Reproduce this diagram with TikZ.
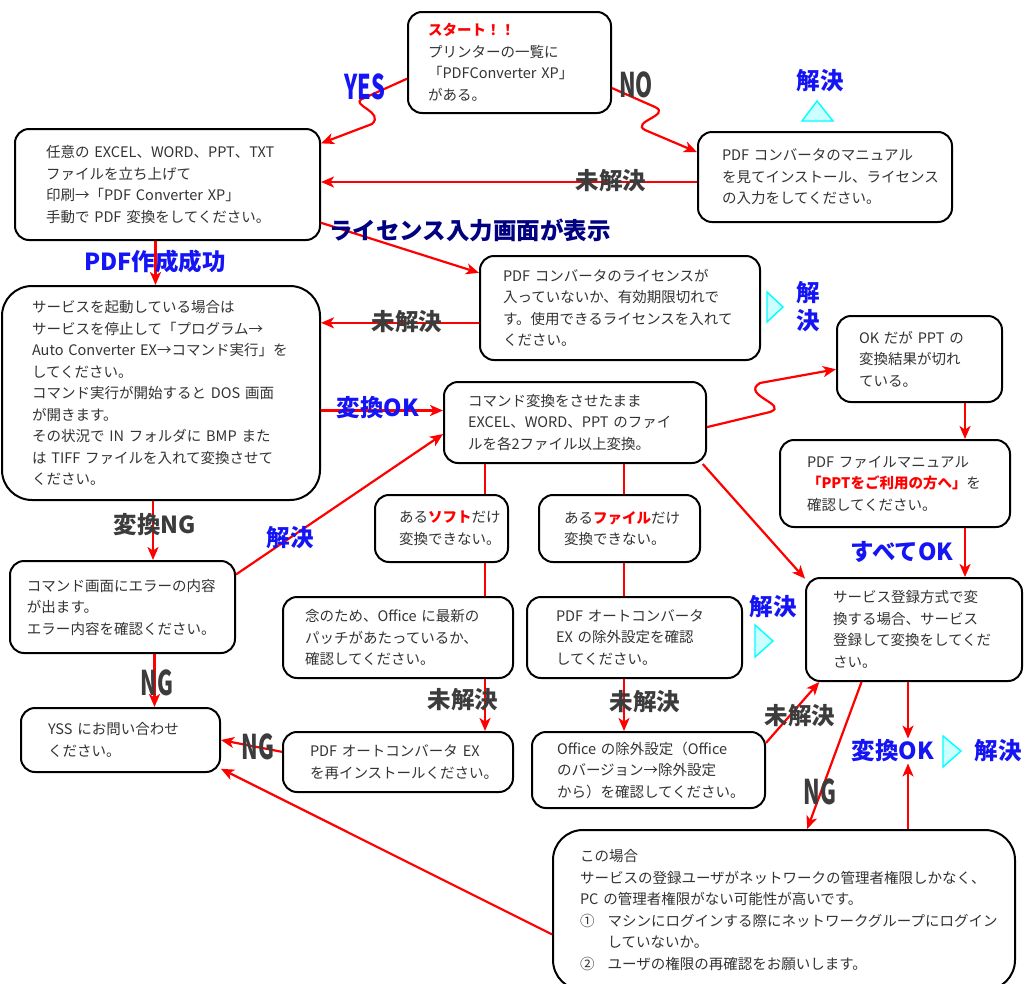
\documentclass[tikz,border=0pt]{standalone}
\usepackage{fontspec}
\setmainfont{Noto Sans CJK JP}
\usetikzlibrary{arrows.meta,calc}
\definecolor{rouge}{HTML}{FF0000}
\definecolor{texte}{HTML}{333333}
\definecolor{bleuE}{HTML}{1414F5}
\definecolor{grisE}{HTML}{3C3C3C}
\definecolor{marine}{HTML}{000080}
\definecolor{cyanT}{HTML}{00FFFF}
\definecolor{cyanF}{HTML}{CCFFFF}
\newcommand\corps{\fontsize{14.5}{21.5}\selectfont}
\newcommand\etiq{\fontsize{23.5}{28}\selectfont\bfseries}
\newcommand\etroit[1]{\scalebox{0.64}[1]{#1}}
\tikzset{
  boite/.style={rectangle, rounded corners=14pt, draw=black, line width=2pt, fill=white,
                align=left, font=\corps, text=texte, inner ysep=0pt},
  lien/.style={draw=rouge, line width=2.2pt},
  fleche/.style={lien, -{Stealth[length=13pt,width=11pt,inset=3.5pt]}},
  etiq/.style={font=\etiq, text=#1, inner sep=1pt},
  serre/.style={font=\fontsize{34}{34}\selectfont\bfseries, text=#1, inner sep=1pt},
  tri/.style={draw=cyanT, fill=cyanF, line width=1.4pt},
}

\begin{document}
\begin{tikzpicture}[x=1pt, y=-1pt]
  \useasboundingbox (0,0) rectangle (1027,983);
  % boites
  \node[boite, inner xsep=20pt, text width=163pt, minimum height=101pt] (depart) at (509.5,62.5)
    {{\color{rouge}\bfseries スタート！！}\\プリンターの一覧に\\「PDFConverter~XP」\\がある。};
  \node[boite, inner xsep=31pt, text width=243pt, minimum height=111pt] (b1) at (167.5,184.5)
    {任意の~EXCEL、WORD、PPT、TXT\\ファイルを立ち上げて\\印刷→「PDF~Converter~XP」\\手動で~PDF~変換をしてください。};
  \node[boite, inner xsep=24pt, text width=206pt, minimum height=90pt] (manuel) at (825,177)
    {PDF~コンバータのマニュアル\\を見てインストール、ライセンス\\の入力をしてください。};
  \node[boite, inner xsep=23pt, text width=234pt, minimum height=104pt] (licence) at (620,308)
    {PDF~コンバータのライセンスが\\入っていないか、有効期限切れで\\す。使用できるライセンスを入れて\\ください。};
  \node[boite, rounded corners=30pt, inner xsep=30pt, text width=258pt, minimum height=214pt] (service) at (161,393)
    {サービスを起動している場合は\\サービスを停止して「プログラム→\\Auto~Converter~EX→コマンド実行」を\\してください。\\
     コマンド実行が開始すると~DOS~画面\\が開きます。\\その状況で~IN~フォルダに~BMP~また\\は~TIFF~ファイルを入れて変換させて\\ください。};
  \node[boite, inner xsep=24pt, text width=214pt, minimum height=81pt] (cmd) at (575,422.5)
    {コマンド変換をさせたまま\\EXCEL、WORD、PPT~のファイ\\ルを各2ファイル以上変換。};
  \node[boite, inner xsep=22pt, text width=121pt, minimum height=86pt] (pptok) at (919.5,359)
    {OK~だが~PPT~の\\変換結果が切れ\\ている。};
  \node[boite, inner xsep=27pt, text width=176pt, minimum height=87pt] (pptman) at (895,483.5)
    {PDF~ファイルマニュアル\\{\color{rouge}\bfseries「PPTをご利用の方へ」}を\\確認してください。};
  \node[boite, inner xsep=17pt, text width=191pt, minimum height=92pt] (err) at (122.5,607)
    {コマンド画面にエラーの内容\\が出ます。\\エラー内容を確認ください。};
  \node[boite, inner xsep=24pt, text width=85pt, minimum height=67pt] (soft) at (441.5,528.5)
    {ある{\color{rouge}\bfseries ソフト}だけ\\変換できない。};
  \node[boite, inner xsep=25pt, text width=111pt, minimum height=67pt] (fichier) at (619.5,528.5)
    {ある{\color{rouge}\bfseries ファイル}だけ\\変換できない。};
  \node[boite, inner xsep=22pt, text width=186pt, minimum height=81pt] (patch) at (398,637.5)
    {念のため、Office~に最新の\\パッチがあたっているか、\\確認してください。};
  \node[boite, inner xsep=29pt, text width=157pt, minimum height=81pt] (exclu) at (634.5,637.5)
    {PDF~オートコンバータ\\EX~の除外設定を確認\\してください。};
  \node[boite, inner xsep=27pt, text width=162pt, minimum height=103pt] (enreg) at (914,629.5)
    {サービス登録方式で変\\換する場合、サービス\\登録して変換をしてくだ\\さい。};
  \node[boite, inner xsep=27pt, text width=145pt, minimum height=64pt] (yss) at (120.5,740)
    {YSS~にお問い合わせ\\ください。};
  \node[boite, inner xsep=27pt, text width=176pt, minimum height=60pt] (reinst) at (398,762)
    {PDF~オートコンバータ~EX\\を再インストールください。};
  \node[boite, inner xsep=25pt, text width=183pt, minimum height=76pt] (offex) at (648.5,770)
    {Office~の除外設定（Office\\のバージョン→除外設定\\から）を確認してください。};
  \node[boite, rounded corners=30pt, inner xsep=27pt, text width=408pt, minimum height=160pt] (cas) at (784,910)
    {この場合\\サービスの登録ユーザがネットワークの管理者権限しかなく、\\PC~の管理者権限がない可能性が高いです。\\
     ①\hspace{0.9em}マシンにログインする際にネットワークグループにログイン\\\hspace{1.9em}していないか。\\
     ②\hspace{0.9em}ユーザの権限の再確認をお願いします。};
  \node[etiq=bleuE] (okfin) at (893,751) {変換OK};

  % axes des colonnes
  \coordinate (axeA) at (485,0);
  \coordinate (axeB) at (624,0);
  \coordinate (axeC) at (965,0);
  \coordinate (axeD) at (908,0);

  % liaisons
  \draw[fleche] (depart.189) -- (362,99) .. controls (350,105) and (385,112) .. (372,124) -- (b1.15);
  \draw[fleche] (depart.-14) -- (655,107) .. controls (672,115) and (630,122) .. (645,130) -- (manuel.169);
  \draw[fleche] ([yshift=-5pt]manuel.west) -- ([yshift=-5pt]manuel.west -| b1.east);
  \draw[fleche] (b1.-14) -- (licence.166);
  \draw[fleche] ([xshift=-12pt]b1.south) -- ([xshift=-12pt]b1.south |- service.north);
  \draw[fleche] (licence.186) -- (licence.186 -| service.east);
  \draw[fleche] ([yshift=12pt]cmd.west -| service.east) -- ([yshift=12pt]cmd.west);
  \draw[fleche] ([xshift=-8pt]service.south) -- ([xshift=-8pt]service.south |- err.north);
  \draw[fleche] (err.16) -- (cmd.185);
  \draw[fleche] (cmd.-2) -- (770,412) .. controls (790,405) and (740,395) .. (760,383) -- (pptok.187);
  \draw[fleche] (pptok.south -| axeC) -- (pptman.north -| axeC);
  \draw[fleche] (pptman.south -| axeC) -- (enreg.north -| axeC);
  \draw[lien] (cmd.south -| axeA) -- (soft.north -| axeA);
  \draw[lien] (soft.south -| axeA) -- (patch.north -| axeA);
  \draw[fleche] (patch.south -| axeA) -- (reinst.north -| axeA);
  \draw[lien] (cmd.south -| axeB) -- (fichier.north -| axeB);
  \draw[lien] (fichier.south -| axeB) -- (exclu.north -| axeB);
  \draw[fleche] (exclu.south -| axeB) -- (offex.north -| axeB);
  \draw[fleche] (cmd.-18.5) -- (enreg.155);
  \draw[fleche] ([xshift=32pt]err.south) -- ([xshift=32pt]err.south |- yss.north);
  \draw[fleche] (reinst.175) -- (yss.east);
  \draw[fleche] (cas.186) -- (yss.-16);
  \draw[fleche] (offex.13.5) -- (enreg.209);
  \draw[fleche] (enreg.225) -- (cas.74);
  \draw[fleche] (enreg.south -| axeD) -- (okfin.north -| axeD);
  \draw[fleche] (cas.north -| axeD) -- (okfin.south -| axeD);

  % etiquettes
  \node[serre=bleuE] at (365,87) {\etroit{YES}};
  \node[serre=grisE] at (636,85) {\etroit{NO}};
  \node[etiq=bleuE] at (820,81) {解決};
  \draw[tri] (817,101) -- (833,121) -- (802,121) -- cycle;
  \node[etiq=grisE] at (611,181) {未解決};
  \node[etiq=marine] at (470,230) {ライセンス入力画面が表示};
  \node[etiq=bleuE] at (155,262) {PDF作成成功};
  \node[etiq=grisE] at (407,322) {未解決};
  \draw[tri] (767,292) -- (783,307) -- (767,322) -- cycle;
  \node[etiq=bleuE, align=center] at (808,307) {解\\決};
  \node[etiq=bleuE] at (378,408) {変換OK};
  \node[etiq=grisE] at (155,525) {変換NG};
  \node[etiq=bleuE] at (290,538) {解決};
  \node[serre=grisE] at (157,683) {\etroit{NG}};
  \node[serre=grisE] at (258,747) {\etroit{NG}};
  \node[etiq=grisE] at (463,700) {未解決};
  \node[etiq=grisE] at (645,702) {未解決};
  \node[etiq=grisE] at (800,716) {未解決};
  \node[etiq=bleuE] at (773,607) {解決};
  \draw[tri] (755,625) -- (773,641) -- (755,657) -- cycle;
  \node[etiq=bleuE] at (902,552) {すべてOK};
  \draw[tri] (943,736) -- (961,751) -- (943,767) -- cycle;
  \node[etiq=bleuE] at (998,751) {解決};
  \node[serre=grisE] at (820,792) {\etroit{NG}};
\end{tikzpicture}
\end{document}
